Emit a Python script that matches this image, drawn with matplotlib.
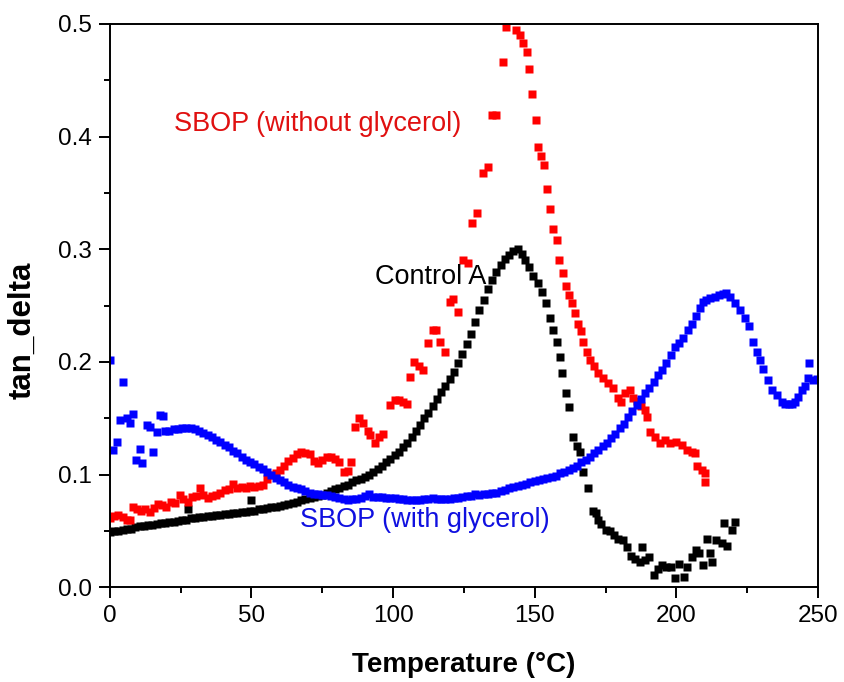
import matplotlib
matplotlib.use("Agg")
import matplotlib.pyplot as plt
from matplotlib.ticker import MultipleLocator

plt.rcParams['font.family'] = ['Liberation Sans', 'DejaVu Sans']

# Control A (black)
ctrl_x = [0, 1.5, 3, 4.5, 6, 7.5, 9, 10.5, 12, 13.5, 15, 16.5, 18, 19.5, 21, 22.5, 24, 25.5, 27, 27.5,
          28.5, 30, 31.5, 33, 34.5, 36, 37.5, 39, 40.5, 42, 43.5, 45, 46.5, 48, 49.5, 50, 51, 52.5, 54,
          55.5, 57, 58.5, 60, 61.5, 63, 64.5, 66, 67.5, 69, 70.5, 72, 73.5, 75, 76.5, 78, 79.5, 81, 82.5,
          84, 85.5, 87, 88.5, 90, 91.5, 93, 94.5, 96, 97.5, 99, 100.5, 102, 103.5, 105, 106.5, 108,
          109.5, 111, 112.5, 114, 115.5, 117, 118.5, 120, 121.5, 123, 124.5, 126, 127.5, 129, 130.5,
          132, 133.5, 135, 136.5, 138, 139.5, 141, 142.5, 144, 145.5, 146.5, 148, 149.5, 151, 152.5,
          154, 155.4, 156.6, 157.8, 158.8, 159.6, 161, 162, 163.5, 165, 166, 167, 168.8, 170.6, 171.5,
          172.3, 173.5, 175, 176.5, 178, 179.5, 181, 182.5, 184, 185.5, 187, 188, 189, 190.5, 192,
          193.5, 195, 196.5, 198, 199.5, 201, 202.7, 203.7, 205.5, 207, 208, 209.4, 210.7, 212, 212.7,
          214, 216, 217, 218, 219.5, 220.7]
ctrl_y = [0.049, 0.050, 0.050, 0.051, 0.052, 0.052, 0.053, 0.054, 0.054, 0.055, 0.055, 0.056, 0.057,
          0.057, 0.058, 0.058, 0.059, 0.060, 0.060, 0.069, 0.061, 0.061, 0.062, 0.062, 0.063, 0.063,
          0.064, 0.064, 0.065, 0.065, 0.066, 0.066, 0.067, 0.067, 0.068, 0.077, 0.068, 0.069, 0.069,
          0.070, 0.071, 0.071, 0.072, 0.073, 0.074, 0.075, 0.076, 0.077, 0.078, 0.079, 0.080, 0.081,
          0.082, 0.084, 0.085, 0.087, 0.088, 0.090, 0.091, 0.093, 0.095, 0.096, 0.098, 0.100, 0.102,
          0.105, 0.108, 0.111, 0.114, 0.117, 0.120, 0.124, 0.128, 0.133, 0.139, 0.144, 0.150, 0.155,
          0.161, 0.167, 0.173, 0.179, 0.185, 0.191, 0.199, 0.207, 0.216, 0.225, 0.235, 0.246, 0.255,
          0.265, 0.273, 0.280, 0.286, 0.291, 0.295, 0.298, 0.300, 0.296, 0.290, 0.284, 0.276, 0.270,
          0.262, 0.252, 0.239, 0.228, 0.218, 0.204, 0.190, 0.172, 0.160, 0.133, 0.125, 0.120, 0.102,
          0.088, 0.068, 0.066, 0.060, 0.056, 0.051, 0.050, 0.046, 0.043, 0.042, 0.036, 0.028, 0.025,
          0.022, 0.036, 0.024, 0.027, 0.011, 0.016, 0.020, 0.018, 0.018, 0.008, 0.021, 0.009, 0.018,
          0.027, 0.033, 0.030, 0.020, 0.043, 0.030, 0.022, 0.042, 0.039, 0.057, 0.037, 0.051, 0.058]

# SBOP without glycerol (red)
noglyc_x = [0, 1.5, 3, 4.5, 6, 7, 8, 9.5, 11, 12.5, 14, 15.5, 17, 18.5, 20, 21.5, 23, 24.7, 26, 27.5,
            29, 30.5, 31.8, 33, 34.5, 36, 37.6, 39, 40.5, 42, 43.5, 45, 46.5, 48, 49.5, 51, 52.5, 54,
            55.5, 57, 58.5, 60, 61.5, 63, 64.5, 66, 67.5, 69, 70.5, 72, 73.5, 75, 76.5, 78, 79.5, 81,
            82.5, 84, 85, 86.5, 88, 89.5, 91, 92, 93.5, 95, 96.5, 99, 100.5, 102, 103.5, 105, 106,
            107.5, 109, 110.5, 112.3, 114, 115.3, 116.5, 118.3, 120, 121.3, 123, 124.7, 126.4, 128,
            129.5, 131.8, 133.5, 134.8, 136.5, 138.8, 140, 143.4, 144.8, 145.8, 147.2, 148, 149, 150.4,
            151.2, 152.2, 153.2, 154.3, 155.4, 156.4, 157.8, 158.6, 160, 161, 162, 163, 164.2, 165.3,
            166.3, 167, 168.4, 169.5, 171, 172.3, 174, 175.8, 177.6, 179.4, 180.5, 182, 183.6, 184.7,
            186, 187.5, 189, 189.6, 190.7, 192.4, 194.2, 196, 197.7, 200, 202, 203.7, 205.5, 206.6,
            207.2, 209, 210, 210.2]
noglyc_y = [0.061, 0.063, 0.064, 0.062, 0.060, 0.060, 0.071, 0.069, 0.068, 0.069, 0.067, 0.070, 0.074,
            0.073, 0.071, 0.076, 0.075, 0.082, 0.078, 0.076, 0.080, 0.081, 0.088, 0.082, 0.079, 0.081,
            0.082, 0.084, 0.086, 0.087, 0.092, 0.088, 0.089, 0.088, 0.090, 0.089, 0.090, 0.091, 0.096,
            0.100, 0.101, 0.104, 0.108, 0.112, 0.115, 0.118, 0.120, 0.119, 0.118, 0.112, 0.110, 0.113,
            0.116, 0.116, 0.114, 0.111, 0.102, 0.103, 0.111, 0.142, 0.150, 0.146, 0.139, 0.135, 0.128,
            0.133, 0.136, 0.162, 0.166, 0.166, 0.164, 0.163, 0.187, 0.200, 0.196, 0.193, 0.217, 0.228,
            0.228, 0.218, 0.209, 0.253, 0.256, 0.244, 0.290, 0.288, 0.323, 0.332, 0.368, 0.373, 0.419,
            0.419, 0.466, 0.497, 0.495, 0.490, 0.483, 0.475, 0.460, 0.438, 0.415, 0.391, 0.383, 0.375,
            0.353, 0.336, 0.318, 0.308, 0.290, 0.279, 0.267, 0.259, 0.252, 0.243, 0.234, 0.227, 0.218,
            0.209, 0.202, 0.196, 0.190, 0.186, 0.181, 0.177, 0.168, 0.164, 0.172, 0.175, 0.168, 0.165,
            0.161, 0.157, 0.151, 0.138, 0.133, 0.128, 0.131, 0.128, 0.129, 0.126, 0.122, 0.120, 0.119,
            0.108, 0.104, 0.101, 0.093]

# SBOP with glycerol (blue)
glyc_x = [0, 1, 2.4, 3.5, 4.7, 6, 7, 8, 9.4, 10.6, 11.5, 13, 14, 15.3, 16.5, 17.6, 18.6, 19.5, 21,
          22.5, 24, 25.5, 27, 28.5, 30, 31.5, 33, 34.5, 36, 37.5, 39, 40.5, 42, 43.5, 45, 46.5, 48,
          49.5, 51, 52.5, 54, 55.5, 57, 58.5, 60, 61.5, 63, 64.5, 66, 67.5, 69, 70.5, 72, 73.5, 75,
          76.5, 78, 79.5, 81, 82.5, 84, 85.5, 87, 88.5, 90, 91.5, 93, 94.5, 96, 97.5, 99, 100.5, 102,
          103.5, 105, 106.5, 108, 109.5, 111, 112.5, 114, 115.5, 117, 118.5, 120, 121.5, 123, 124.5,
          126, 127.5, 129, 130.5, 132, 133.5, 135, 136.5, 138, 139.5, 141, 142.5, 144, 145.5, 147,
          148.5, 150, 151.5, 153, 154.5, 156, 157.5, 159, 160.5, 162, 163.5, 165, 166.5, 168, 169.5,
          171, 172.5, 174, 175.5, 177, 178.5, 180, 181.5, 183, 184.5, 186, 187.5, 189, 190.5, 192,
          193.5, 195, 196.5, 198, 199.5, 201, 202.5, 204, 205.5, 207, 208.3, 209.4, 210.5, 212,
          213.5, 215, 216.5, 217.5, 219, 220.7, 222.5, 224.2, 225.5, 227, 228.5, 229.5, 230.6, 232.4,
          233.8, 235.5, 237.3, 238.5, 239.8, 241, 242, 243, 244.3, 245.4, 246.5, 247, 248.3, 249.5]
glyc_y = [0.202, 0.122, 0.129, 0.148, 0.182, 0.150, 0.146, 0.154, 0.113, 0.123, 0.110, 0.144, 0.142,
          0.120, 0.138, 0.153, 0.152, 0.139, 0.139, 0.140, 0.140, 0.141, 0.141, 0.141, 0.140, 0.139,
          0.137, 0.135, 0.133, 0.131, 0.129, 0.126, 0.124, 0.121, 0.119, 0.116, 0.113, 0.111, 0.109,
          0.107, 0.105, 0.102, 0.100, 0.097, 0.095, 0.093, 0.091, 0.089, 0.088, 0.087, 0.085, 0.084,
          0.083, 0.083, 0.082, 0.082, 0.081, 0.080, 0.079, 0.078, 0.077, 0.078, 0.078, 0.079, 0.081,
          0.083, 0.080, 0.080, 0.080, 0.079, 0.079, 0.079, 0.078, 0.078, 0.077, 0.077, 0.077, 0.077,
          0.078, 0.078, 0.079, 0.078, 0.078, 0.078, 0.078, 0.079, 0.079, 0.080, 0.081, 0.081, 0.083,
          0.082, 0.083, 0.083, 0.084, 0.084, 0.085, 0.086, 0.088, 0.089, 0.090, 0.091, 0.092, 0.093,
          0.094, 0.095, 0.096, 0.097, 0.098, 0.099, 0.101, 0.102, 0.104, 0.106, 0.108, 0.111, 0.113,
          0.116, 0.119, 0.122, 0.125, 0.128, 0.132, 0.136, 0.141, 0.145, 0.151, 0.156, 0.162, 0.167,
          0.172, 0.177, 0.182, 0.188, 0.193, 0.199, 0.206, 0.213, 0.217, 0.221, 0.228, 0.234, 0.241,
          0.248, 0.253, 0.255, 0.257, 0.258, 0.259, 0.260, 0.261, 0.258, 0.252, 0.246, 0.239, 0.232,
          0.218, 0.209, 0.202, 0.194, 0.184, 0.175, 0.171, 0.164, 0.163, 0.163, 0.163, 0.164, 0.169,
          0.175, 0.179, 0.186, 0.199, 0.184, 0.185]

fig = plt.figure(figsize=(8.45, 6.82), dpi=100)
ax = fig.add_axes([0.130, 0.139, 0.838, 0.826])

ms = 5.5
ax.plot(ctrl_x, ctrl_y, 's', color='black', ms=ms, mec='none')
ax.plot(noglyc_x, noglyc_y, 's', color='#ff0000', ms=ms, mec='none')
ax.plot(glyc_x, glyc_y, 's', color='#0000ff', ms=ms, mec='none')

ax.set_xlim(0, 250)
ax.set_ylim(0, 0.5)
ax.xaxis.set_major_locator(MultipleLocator(50))
ax.xaxis.set_minor_locator(MultipleLocator(25))
ax.yaxis.set_major_locator(MultipleLocator(0.1))
ax.yaxis.set_minor_locator(MultipleLocator(0.05))
ax.yaxis.set_major_formatter(plt.FormatStrFormatter('%.1f'))

ax.tick_params(which='major', direction='out', length=8, width=1.4, labelsize=17.5, pad=5)
ax.tick_params(which='minor', direction='out', length=4, width=1.4)
for sp in ax.spines.values():
    sp.set_linewidth(1.4)

ax.set_xlabel('Temperature (°C)', fontsize=20, fontweight='bold', labelpad=18)
ax.set_ylabel('tan_delta', fontsize=22.5, fontweight='bold')
ax.yaxis.set_label_coords(-0.102, 0.456)

ax.text(22.5, 0.411, 'SBOP (without glycerol)', color='#e01010', fontsize=19.5, va='center')
ax.text(93.5, 0.275, 'Control A', color='black', fontsize=19.5, va='center')
ax.text(67, 0.060, 'SBOP (with glycerol)', color='#1010e0', fontsize=19.5, va='center')

fig.savefig('out.png', dpi=100)
